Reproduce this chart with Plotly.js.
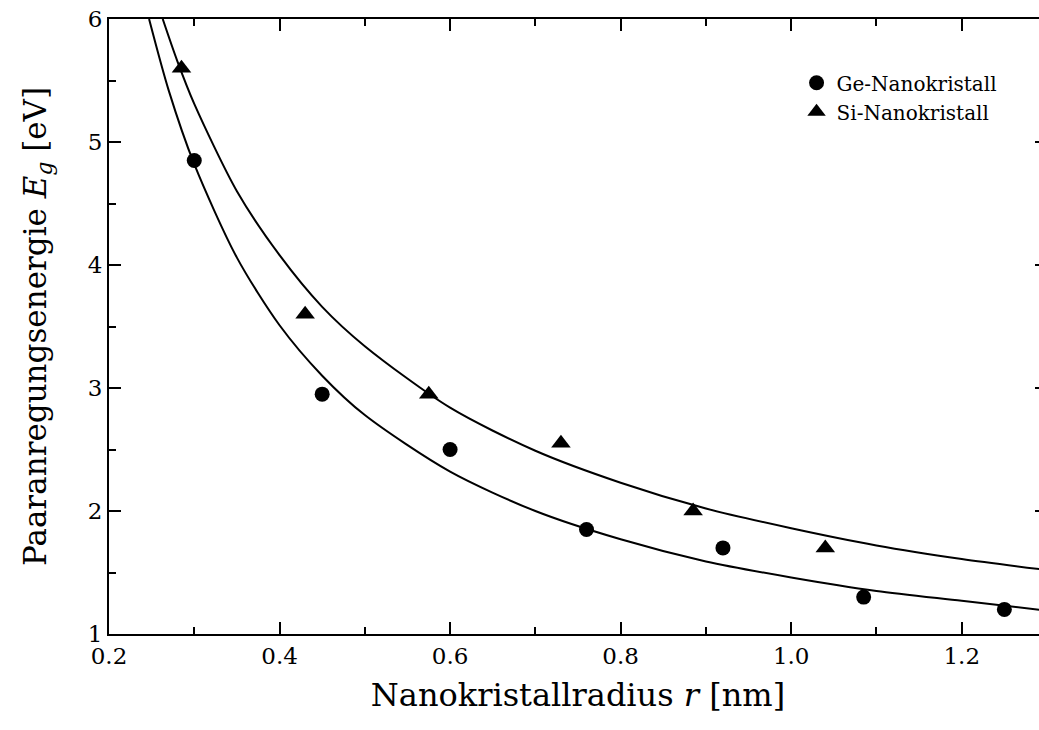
<!DOCTYPE html>
<html>
<head>
<meta charset="utf-8">
<script src="https://cdn.plot.ly/plotly-3.0.1.min.js"></script>
<style>
  html, body { margin: 0; padding: 0; overflow: hidden; background: #fff; }
  #chart { width: 1060px; height: 730px; }
</style>
</head>
<body>
<div id="chart"></div>
<script>
// Measured pair excitation energies of nanocrystals
const geRadius = [0.30, 0.45, 0.60, 0.76, 0.92, 1.085, 1.25];
const geEnergy = [4.85, 2.95, 2.50, 1.85, 1.70, 1.30, 1.20];

const siRadius = [0.285, 0.43, 0.575, 0.73, 0.885, 1.04];
const siEnergy = [5.60, 3.60, 2.95, 2.55, 2.00, 1.70];

// Fitted curves, sampled along the radius axis
const geFitRadius = [0.247, 0.27, 0.30, 0.35, 0.40, 0.45, 0.50, 0.60, 0.70, 0.80, 0.90, 1.00, 1.10, 1.20, 1.30];
const geFitEnergy = [6.00, 5.42, 4.82, 4.06, 3.51, 3.10, 2.78, 2.32, 2.00, 1.77, 1.59, 1.46, 1.35, 1.27, 1.19];

const siFitRadius = [0.263, 0.28, 0.30, 0.35, 0.40, 0.45, 0.50, 0.60, 0.70, 0.80, 0.90, 1.00, 1.10, 1.20, 1.30];
const siFitEnergy = [6.00, 5.66, 5.31, 4.60, 4.08, 3.66, 3.34, 2.84, 2.49, 2.23, 2.02, 1.86, 1.72, 1.61, 1.52];

const FONT = 'DejaVu Serif, Liberation Serif, serif';

const traces = [
  {
    x: geFitRadius, y: geFitEnergy, mode: 'lines', line: {color: '#000', width: 2, shape: 'spline', smoothing: 0.8},
    showlegend: false, hoverinfo: 'skip'
  },
  {
    x: siFitRadius, y: siFitEnergy, mode: 'lines', line: {color: '#000', width: 2, shape: 'spline', smoothing: 0.8},
    showlegend: false, hoverinfo: 'skip'
  },
  {
    x: geRadius, y: geEnergy, mode: 'markers', name: 'Ge-Nanokristall',
    marker: {symbol: 'circle', size: 15, color: '#000'}
  },
  {
    x: siRadius, y: siEnergy, mode: 'markers', name: 'Si-Nanokristall',
    marker: {symbol: 'triangle-up', size: 17, color: '#000'}
  }
];

const axisCommon = {
  showgrid: false,
  zeroline: false,
  showline: true,
  linecolor: '#000',
  linewidth: 2,
  mirror: 'ticks',
  ticks: 'inside',
  tickcolor: '#000',
  tickwidth: 2,
  ticklen: 12,
  tickfont: {family: FONT, size: 23, color: '#000'}
};

const layout = {
  width: 1060,
  height: 730,
  margin: {l: 109, r: 13, t: 19, b: 96},
  paper_bgcolor: '#fff',
  plot_bgcolor: '#fff',
  font: {family: FONT, color: '#000'},
  xaxis: Object.assign({}, axisCommon, {
    range: [0.2, 1.3],
    tickvals: [0.2, 0.4, 0.6, 0.8, 1.0, 1.2],
    ticktext: ['0.2', '0.4', '0.6', '0.8', '1.0', '1.2'],
    minor: {dtick: 0.1, tick0: 0.2, ticks: 'inside', ticklen: 7, tickwidth: 2, tickcolor: '#000'},
    title: {text: 'Nanokristallradius <i>r</i> [nm]', font: {family: FONT, size: 32, color: '#000'}, standoff: 16}
  }),
  yaxis: Object.assign({}, axisCommon, {
    range: [1, 6],
    tickvals: [1, 2, 3, 4, 5, 6],
    minor: {dtick: 0.5, tick0: 1, ticks: 'inside', ticklen: 7, tickwidth: 2, tickcolor: '#000'},
    title: {text: 'Paaranregungsenergie <i>E</i><sub><i>g</i></sub> [eV]', font: {family: FONT, size: 31, color: '#000'}, standoff: 32}
  }),
  legend: {
    x: 0.733, y: 0.928, xanchor: 'left', yanchor: 'top',
    bgcolor: 'rgba(0,0,0,0)',
    font: {family: FONT, size: 20, color: '#000'},
    tracegroupgap: 0, itemsizing: 'trace'
  },
  showlegend: true
};

Plotly.newPlot('chart', traces, layout, {displayModeBar: false, staticPlot: true});
</script>
</body>
</html>
